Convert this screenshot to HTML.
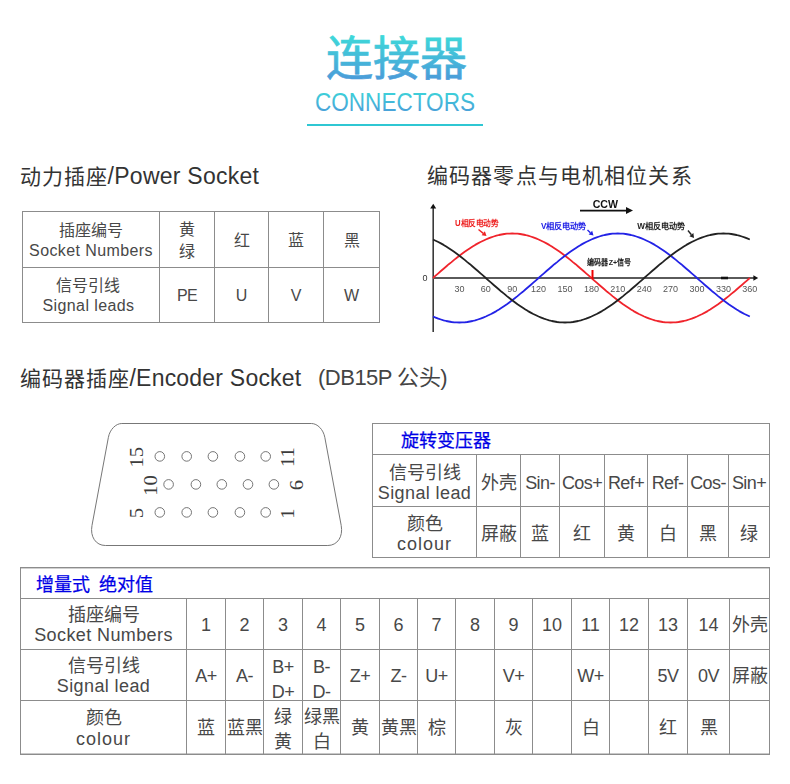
<!DOCTYPE html>
<html lang="zh-CN"><head><meta charset="utf-8"><title>Connectors</title>
<style>
*{margin:0;padding:0;box-sizing:border-box}
html,body{width:790px;height:784px;overflow:hidden;background:#fff}
body{position:relative;-webkit-font-smoothing:antialiased;font-family:"Liberation Sans", sans-serif;color:#484848}
.l{position:absolute}
.c{position:absolute;font-weight:350;display:flex;align-items:center;justify-content:center;text-align:center;line-height:20px;white-space:nowrap;color:#484848}
.la{letter-spacing:0.4px}
.bt{position:absolute;display:flex;align-items:center;color:#0000e6;-webkit-text-stroke:0.25px #0000e6;white-space:nowrap}
.h.h2{font-size:22px;letter-spacing:-0.5px;color:#444}
.h{position:absolute;font-size:21px;letter-spacing:0.9px;line-height:30px;color:#333;white-space:nowrap}

</style></head>
<body>
<svg width="790" height="140" style="position:absolute;left:0;top:0"><defs><linearGradient id="g1" gradientUnits="userSpaceOnUse" x1="0" y1="36" x2="0" y2="80"><stop offset="0" stop-color="#3ed8d9"/><stop offset="1" stop-color="#4b9bd9"/></linearGradient><linearGradient id="g2" gradientUnits="userSpaceOnUse" x1="0" y1="92" x2="0" y2="112"><stop offset="0" stop-color="#3dd2d9"/><stop offset="1" stop-color="#4aa0d9"/></linearGradient></defs><text x="396.5" y="75" text-anchor="middle" font-family="Liberation Sans, sans-serif" font-size="47" font-weight="500" fill="url(#g1)" stroke="url(#g1)" stroke-width="0.7">连接器</text><text x="315" y="111.3" font-family="Liberation Sans, sans-serif" font-size="26" fill="url(#g2)" textLength="160" lengthAdjust="spacingAndGlyphs">CONNECTORS</text></svg>
<div class="l" style="left:307px;top:124px;width:176px;height:2px;background:#2fc7d3"></div>
<div class="h" style="left:20px;top:161px">动力插座<span style="letter-spacing:0.25px;font-size:23px">/Power Socket</span></div>
<div class="h" style="left:427px;top:161px;letter-spacing:1.15px">编码器零点与电机相位关系</div>
<div class="h" style="left:20px;top:363px">编码器插座<span style="letter-spacing:0.21px;font-size:23px">/Encoder Socket</span></div>
<div class="h h2" style="left:318px;top:363px">(DB15P 公头)</div>
<div class="l" style="left:22px;top:211px;width:358px;height:1px;background:#8c8c8c"></div>
<div class="l" style="left:22px;top:267px;width:358px;height:1px;background:#8c8c8c"></div>
<div class="l" style="left:22px;top:322px;width:358px;height:1px;background:#8c8c8c"></div>
<div class="l" style="left:22px;top:211px;width:1px;height:112px;background:#8c8c8c"></div>
<div class="l" style="left:159px;top:211px;width:1px;height:112px;background:#8c8c8c"></div>
<div class="l" style="left:214px;top:211px;width:1px;height:112px;background:#8c8c8c"></div>
<div class="l" style="left:268px;top:211px;width:1px;height:112px;background:#8c8c8c"></div>
<div class="l" style="left:323px;top:211px;width:1px;height:112px;background:#8c8c8c"></div>
<div class="l" style="left:379px;top:211px;width:1px;height:112px;background:#8c8c8c"></div>
<div class="c" style="left:23px;top:212px;width:136px;height:55px;font-size:16px;line-height:20px;padding-top:2px;"><div>插座编号<br><span class="la">Socket Numbers</span></div></div>
<div class="c" style="left:160px;top:212px;width:54px;height:55px;font-size:16px;line-height:22px;padding-top:2px;"><div>黄<br>绿</div></div>
<div class="c" style="left:215px;top:212px;width:53px;height:55px;font-size:16px;line-height:22px;padding-top:2px;"><div>红</div></div>
<div class="c" style="left:269px;top:212px;width:54px;height:55px;font-size:16px;line-height:22px;padding-top:2px;"><div>蓝</div></div>
<div class="c" style="left:324px;top:212px;width:55px;height:55px;font-size:16px;line-height:22px;padding-top:2px;"><div>黑</div></div>
<div class="c" style="left:23px;top:268px;width:136px;height:54px;font-size:16px;line-height:20px;padding-top:2px;padding-right:5px;"><div>信号引线<br><span class="la">Signal leads</span></div></div>
<div class="c" style="left:160px;top:268px;width:54px;height:54px;font-size:16px;line-height:22px;padding-top:2px;letter-spacing:-0.6px;"><div>PE</div></div>
<div class="c" style="left:215px;top:268px;width:53px;height:54px;font-size:16px;line-height:22px;padding-top:2px;"><div>U</div></div>
<div class="c" style="left:269px;top:268px;width:54px;height:54px;font-size:16px;line-height:22px;padding-top:2px;"><div>V</div></div>
<div class="c" style="left:324px;top:268px;width:55px;height:54px;font-size:16px;line-height:22px;padding-top:2px;"><div>W</div></div>
<div class="l" style="left:372px;top:423px;width:398px;height:1px;background:#8c8c8c"></div>
<div class="l" style="left:372px;top:454px;width:398px;height:1px;background:#8c8c8c"></div>
<div class="l" style="left:372px;top:506px;width:398px;height:1px;background:#8c8c8c"></div>
<div class="l" style="left:372px;top:557px;width:398px;height:1px;background:#8c8c8c"></div>
<div class="l" style="left:372px;top:423px;width:1px;height:135px;background:#8c8c8c"></div>
<div class="l" style="left:476px;top:454px;width:1px;height:104px;background:#8c8c8c"></div>
<div class="l" style="left:520px;top:454px;width:1px;height:104px;background:#8c8c8c"></div>
<div class="l" style="left:559px;top:454px;width:1px;height:104px;background:#8c8c8c"></div>
<div class="l" style="left:604px;top:454px;width:1px;height:104px;background:#8c8c8c"></div>
<div class="l" style="left:647px;top:454px;width:1px;height:104px;background:#8c8c8c"></div>
<div class="l" style="left:687px;top:454px;width:1px;height:104px;background:#8c8c8c"></div>
<div class="l" style="left:728px;top:454px;width:1px;height:104px;background:#8c8c8c"></div>
<div class="l" style="left:769px;top:423px;width:1px;height:135px;background:#8c8c8c"></div>
<div class="bt" style="left:401px;top:424px;height:30px;font-size:18px">旋转变压器</div>
<div class="c" style="left:373px;top:455px;width:103px;height:51px;font-size:18px;line-height:20px;padding-top:4px;"><div>信号引线<br><span class="la">Signal lead</span></div></div>
<div class="c" style="left:477px;top:455px;width:43px;height:51px;font-size:18px;line-height:20px;padding-top:4px;"><div>外壳</div></div>
<div class="c" style="left:521px;top:455px;width:38px;height:51px;font-size:18px;line-height:20px;padding-top:4px;letter-spacing:-0.6px;"><div>Sin-</div></div>
<div class="c" style="left:560px;top:455px;width:44px;height:51px;font-size:18px;line-height:20px;padding-top:4px;letter-spacing:-0.6px;"><div>Cos+</div></div>
<div class="c" style="left:605px;top:455px;width:42px;height:51px;font-size:18px;line-height:20px;padding-top:4px;letter-spacing:-0.6px;"><div>Ref+</div></div>
<div class="c" style="left:648px;top:455px;width:39px;height:51px;font-size:18px;line-height:20px;padding-top:4px;letter-spacing:-0.6px;"><div>Ref-</div></div>
<div class="c" style="left:688px;top:455px;width:40px;height:51px;font-size:18px;line-height:20px;padding-top:4px;letter-spacing:-0.6px;"><div>Cos-</div></div>
<div class="c" style="left:729px;top:455px;width:40px;height:51px;font-size:18px;line-height:20px;padding-top:4px;letter-spacing:-0.6px;"><div>Sin+</div></div>
<div class="c" style="left:373px;top:507px;width:103px;height:50px;font-size:18px;line-height:20px;padding-top:4px;"><div>颜色<br><span class="la" style="letter-spacing:1px">colour</span></div></div>
<div class="c" style="left:477px;top:507px;width:43px;height:50px;font-size:18px;line-height:20px;padding-top:4px;"><div>屏蔽</div></div>
<div class="c" style="left:521px;top:507px;width:38px;height:50px;font-size:18px;line-height:20px;padding-top:4px;"><div>蓝</div></div>
<div class="c" style="left:560px;top:507px;width:44px;height:50px;font-size:18px;line-height:20px;padding-top:4px;"><div>红</div></div>
<div class="c" style="left:605px;top:507px;width:42px;height:50px;font-size:18px;line-height:20px;padding-top:4px;"><div>黄</div></div>
<div class="c" style="left:648px;top:507px;width:39px;height:50px;font-size:18px;line-height:20px;padding-top:4px;"><div>白</div></div>
<div class="c" style="left:688px;top:507px;width:40px;height:50px;font-size:18px;line-height:20px;padding-top:4px;"><div>黑</div></div>
<div class="c" style="left:729px;top:507px;width:40px;height:50px;font-size:18px;line-height:20px;padding-top:4px;"><div>绿</div></div>
<div class="l" style="left:21px;top:568px;width:748px;height:1px;background:#d0d0d0"></div>
<div class="l" style="left:21px;top:753px;width:748px;height:1px;background:#c8c8c8"></div>
<div class="l" style="left:20px;top:567px;width:750px;height:1px;background:#8c8c8c"></div>
<div class="l" style="left:20px;top:598px;width:750px;height:1px;background:#8c8c8c"></div>
<div class="l" style="left:20px;top:649px;width:750px;height:1px;background:#8c8c8c"></div>
<div class="l" style="left:20px;top:700px;width:750px;height:1px;background:#8c8c8c"></div>
<div class="l" style="left:20px;top:754px;width:750px;height:1px;background:#8c8c8c"></div>
<div class="l" style="left:20px;top:567px;width:1px;height:188px;background:#8c8c8c"></div>
<div class="l" style="left:186px;top:598px;width:1px;height:157px;background:#8c8c8c"></div>
<div class="l" style="left:225px;top:598px;width:1px;height:157px;background:#8c8c8c"></div>
<div class="l" style="left:263px;top:598px;width:1px;height:157px;background:#8c8c8c"></div>
<div class="l" style="left:302px;top:598px;width:1px;height:157px;background:#8c8c8c"></div>
<div class="l" style="left:340px;top:598px;width:1px;height:157px;background:#8c8c8c"></div>
<div class="l" style="left:379px;top:598px;width:1px;height:157px;background:#8c8c8c"></div>
<div class="l" style="left:417px;top:598px;width:1px;height:157px;background:#8c8c8c"></div>
<div class="l" style="left:455px;top:598px;width:1px;height:157px;background:#8c8c8c"></div>
<div class="l" style="left:494px;top:598px;width:1px;height:157px;background:#8c8c8c"></div>
<div class="l" style="left:532px;top:598px;width:1px;height:157px;background:#8c8c8c"></div>
<div class="l" style="left:571px;top:598px;width:1px;height:157px;background:#8c8c8c"></div>
<div class="l" style="left:609px;top:598px;width:1px;height:157px;background:#8c8c8c"></div>
<div class="l" style="left:648px;top:598px;width:1px;height:157px;background:#8c8c8c"></div>
<div class="l" style="left:687px;top:598px;width:1px;height:157px;background:#8c8c8c"></div>
<div class="l" style="left:729px;top:598px;width:1px;height:157px;background:#8c8c8c"></div>
<div class="l" style="left:769px;top:567px;width:1px;height:188px;background:#8c8c8c"></div>
<div class="bt" style="left:36px;top:568px;height:30px;font-size:18px">增量式<span style="display:inline-block;width:8.5px"></span>绝对值</div>
<div class="c" style="left:21px;top:599px;width:165px;height:50px;font-size:18px;line-height:20.5px;padding-top:2px;"><div>插座编号<br><span class="la">Socket Numbers</span></div></div>
<div class="c" style="left:187px;top:599px;width:38px;height:50px;font-size:18px;line-height:24.5px;padding-top:2px;"><div>1</div></div>
<div class="c" style="left:226px;top:599px;width:37px;height:50px;font-size:18px;line-height:24.5px;padding-top:2px;"><div>2</div></div>
<div class="c" style="left:264px;top:599px;width:38px;height:50px;font-size:18px;line-height:24.5px;padding-top:2px;"><div>3</div></div>
<div class="c" style="left:303px;top:599px;width:37px;height:50px;font-size:18px;line-height:24.5px;padding-top:2px;"><div>4</div></div>
<div class="c" style="left:341px;top:599px;width:38px;height:50px;font-size:18px;line-height:24.5px;padding-top:2px;"><div>5</div></div>
<div class="c" style="left:380px;top:599px;width:37px;height:50px;font-size:18px;line-height:24.5px;padding-top:2px;"><div>6</div></div>
<div class="c" style="left:418px;top:599px;width:37px;height:50px;font-size:18px;line-height:24.5px;padding-top:2px;"><div>7</div></div>
<div class="c" style="left:456px;top:599px;width:38px;height:50px;font-size:18px;line-height:24.5px;padding-top:2px;"><div>8</div></div>
<div class="c" style="left:495px;top:599px;width:37px;height:50px;font-size:18px;line-height:24.5px;padding-top:2px;"><div>9</div></div>
<div class="c" style="left:533px;top:599px;width:38px;height:50px;font-size:18px;line-height:24.5px;padding-top:2px;"><div>10</div></div>
<div class="c" style="left:572px;top:599px;width:37px;height:50px;font-size:18px;line-height:24.5px;padding-top:2px;"><div>11</div></div>
<div class="c" style="left:610px;top:599px;width:38px;height:50px;font-size:18px;line-height:24.5px;padding-top:2px;"><div>12</div></div>
<div class="c" style="left:649px;top:599px;width:38px;height:50px;font-size:18px;line-height:24.5px;padding-top:2px;"><div>13</div></div>
<div class="c" style="left:688px;top:599px;width:41px;height:50px;font-size:18px;line-height:24.5px;padding-top:2px;"><div>14</div></div>
<div class="c" style="left:730px;top:599px;width:39px;height:50px;font-size:18px;line-height:24.5px;padding-top:2px;"><div>外壳</div></div>
<div class="c" style="left:21px;top:650px;width:165px;height:50px;font-size:18px;line-height:20.5px;padding-top:2px;"><div>信号引线<br><span class="la">Signal lead</span></div></div>
<div class="c" style="left:187px;top:650px;width:38px;height:50px;font-size:18px;line-height:24.5px;padding-top:2px;letter-spacing:-0.6px;"><div>A+</div></div>
<div class="c" style="left:226px;top:650px;width:37px;height:50px;font-size:18px;line-height:24.5px;padding-top:2px;letter-spacing:-0.6px;"><div>A-</div></div>
<div class="c" style="left:264px;top:650px;width:38px;height:50px;font-size:18px;line-height:24.5px;padding-top:9.0px;letter-spacing:-0.6px;"><div>B+<br>D+</div></div>
<div class="c" style="left:303px;top:650px;width:37px;height:50px;font-size:18px;line-height:24.5px;padding-top:9.0px;letter-spacing:-0.6px;"><div>B-<br>D-</div></div>
<div class="c" style="left:341px;top:650px;width:38px;height:50px;font-size:18px;line-height:24.5px;padding-top:2px;letter-spacing:-0.6px;"><div>Z+</div></div>
<div class="c" style="left:380px;top:650px;width:37px;height:50px;font-size:18px;line-height:24.5px;padding-top:2px;letter-spacing:-0.6px;"><div>Z-</div></div>
<div class="c" style="left:418px;top:650px;width:37px;height:50px;font-size:18px;line-height:24.5px;padding-top:2px;letter-spacing:-0.6px;"><div>U+</div></div>
<div class="c" style="left:495px;top:650px;width:37px;height:50px;font-size:18px;line-height:24.5px;padding-top:2px;letter-spacing:-0.6px;"><div>V+</div></div>
<div class="c" style="left:572px;top:650px;width:37px;height:50px;font-size:18px;line-height:24.5px;padding-top:2px;letter-spacing:-0.6px;"><div>W+</div></div>
<div class="c" style="left:649px;top:650px;width:38px;height:50px;font-size:18px;line-height:24.5px;padding-top:2px;letter-spacing:-0.6px;"><div>5V</div></div>
<div class="c" style="left:688px;top:650px;width:41px;height:50px;font-size:18px;line-height:24.5px;padding-top:2px;letter-spacing:-0.6px;"><div>0V</div></div>
<div class="c" style="left:730px;top:650px;width:39px;height:50px;font-size:18px;line-height:24.5px;padding-top:2px;"><div>屏蔽</div></div>
<div class="c" style="left:21px;top:701px;width:165px;height:53px;font-size:18px;line-height:20.5px;padding-top:2px;"><div>颜色<br><span class="la" style="letter-spacing:1px">colour</span></div></div>
<div class="c" style="left:187px;top:701px;width:38px;height:53px;font-size:18px;line-height:24.5px;padding-top:2px;"><div>蓝</div></div>
<div class="c" style="left:226px;top:701px;width:37px;height:53px;font-size:18px;line-height:24.5px;padding-top:2px;"><div>蓝黑</div></div>
<div class="c" style="left:264px;top:701px;width:38px;height:53px;font-size:18px;line-height:25px;padding-top:4px;"><div>绿<br>黄</div></div>
<div class="c" style="left:303px;top:701px;width:37px;height:53px;font-size:18px;line-height:25px;padding-top:4px;"><div>绿黑<br>白</div></div>
<div class="c" style="left:341px;top:701px;width:38px;height:53px;font-size:18px;line-height:24.5px;padding-top:2px;"><div>黄</div></div>
<div class="c" style="left:380px;top:701px;width:37px;height:53px;font-size:18px;line-height:24.5px;padding-top:2px;"><div>黄黑</div></div>
<div class="c" style="left:418px;top:701px;width:37px;height:53px;font-size:18px;line-height:24.5px;padding-top:2px;"><div>棕</div></div>
<div class="c" style="left:495px;top:701px;width:37px;height:53px;font-size:18px;line-height:24.5px;padding-top:2px;"><div>灰</div></div>
<div class="c" style="left:572px;top:701px;width:37px;height:53px;font-size:18px;line-height:24.5px;padding-top:2px;"><div>白</div></div>
<div class="c" style="left:649px;top:701px;width:38px;height:53px;font-size:18px;line-height:24.5px;padding-top:2px;"><div>红</div></div>
<div class="c" style="left:688px;top:701px;width:41px;height:53px;font-size:18px;line-height:24.5px;padding-top:2px;"><div>黑</div></div>
<svg id="dsub" width="790" height="784" viewBox="0 0 790 784" style="position:absolute;left:0;top:0"><path d="M121.80,423.50 L311.40,423.50 C317.47,423.50 323.36,429.57 324.80,437.30 L341.21,525.50 C343.29,536.70 337.39,545.50 327.80,545.50 L105.40,545.50 C95.81,545.50 89.91,536.70 91.99,525.50 L108.40,437.30 C109.84,429.57 115.73,423.50 121.80,423.50 Z" fill="none" stroke="#777" stroke-width="1"/><circle cx="159.8" cy="456.4" r="4.8" fill="none" stroke="#666" stroke-width="0.9"/><circle cx="186.7" cy="456.4" r="4.8" fill="none" stroke="#666" stroke-width="0.9"/><circle cx="212.9" cy="456.4" r="4.8" fill="none" stroke="#666" stroke-width="0.9"/><circle cx="239.9" cy="456.4" r="4.8" fill="none" stroke="#666" stroke-width="0.9"/><circle cx="265.7" cy="456.4" r="4.8" fill="none" stroke="#666" stroke-width="0.9"/><circle cx="168.6" cy="484.4" r="4.8" fill="none" stroke="#666" stroke-width="0.9"/><circle cx="195.9" cy="484.4" r="4.8" fill="none" stroke="#666" stroke-width="0.9"/><circle cx="221.8" cy="484.4" r="4.8" fill="none" stroke="#666" stroke-width="0.9"/><circle cx="248" cy="484.4" r="4.8" fill="none" stroke="#666" stroke-width="0.9"/><circle cx="273.9" cy="484.4" r="4.8" fill="none" stroke="#666" stroke-width="0.9"/><circle cx="159.8" cy="512.4" r="4.8" fill="none" stroke="#666" stroke-width="0.9"/><circle cx="186.7" cy="512.4" r="4.8" fill="none" stroke="#666" stroke-width="0.9"/><circle cx="212.9" cy="512.4" r="4.8" fill="none" stroke="#666" stroke-width="0.9"/><circle cx="239.9" cy="512.4" r="4.8" fill="none" stroke="#666" stroke-width="0.9"/><circle cx="265.7" cy="512.4" r="4.8" fill="none" stroke="#666" stroke-width="0.9"/><text x="0" y="0" transform="translate(136.8,457.2) rotate(-90) scale(1.03,0.9)" text-anchor="middle" dominant-baseline="central" font-family="Liberation Serif" font-size="20" fill="#3c3c3c">15</text><text x="0" y="0" transform="translate(151,485.5) rotate(-90) scale(1.03,0.9)" text-anchor="middle" dominant-baseline="central" font-family="Liberation Serif" font-size="20" fill="#3c3c3c">10</text><text x="0" y="0" transform="translate(136.8,513.2) rotate(-90) scale(1.03,0.9)" text-anchor="middle" dominant-baseline="central" font-family="Liberation Serif" font-size="20" fill="#3c3c3c">5</text><text x="0" y="0" transform="translate(288.1,457) rotate(-90) scale(1.03,0.9)" text-anchor="middle" dominant-baseline="central" font-family="Liberation Serif" font-size="20" fill="#3c3c3c">11</text><text x="0" y="0" transform="translate(297.3,485.1) rotate(-90) scale(1.03,0.9)" text-anchor="middle" dominant-baseline="central" font-family="Liberation Serif" font-size="20" fill="#3c3c3c">6</text><text x="0" y="0" transform="translate(288.1,513.5) rotate(-90) scale(1.03,0.9)" text-anchor="middle" dominant-baseline="central" font-family="Liberation Serif" font-size="20" fill="#3c3c3c">1</text></svg>
<svg id="chart" width="790" height="784" viewBox="0 0 790 784" style="position:absolute;left:0;top:0;filter:blur(0.35px)"><line x1="433.2" y1="332" x2="433.2" y2="208" stroke="#3a3a3a" stroke-width="1.6"/><path d="M433.2,203.8 L430.2,208.6 L436.2,208.6 Z" fill="#111"/><line x1="433" y1="278" x2="754" y2="278" stroke="#5a5a5a" stroke-width="2"/><path d="M758.2,278 L753.4,275.2 L753.4,280.8 Z" fill="#111"/><polyline points="433.0,278.0 435.6,275.7 438.3,273.3 440.9,271.0 443.6,268.7 446.2,266.5 448.8,264.2 451.5,262.1 454.1,259.9 456.8,257.8 459.4,255.8 462.0,253.8 464.7,251.8 467.3,250.0 470.0,248.2 472.6,246.5 475.2,244.9 477.9,243.4 480.5,242.0 483.2,240.7 485.8,239.5 488.4,238.4 491.1,237.3 493.7,236.5 496.4,235.7 499.0,235.0 501.6,234.5 504.3,234.0 506.9,233.7 509.6,233.6 512.2,233.5 514.8,233.6 517.5,233.7 520.1,234.0 522.8,234.5 525.4,235.0 528.0,235.7 530.7,236.5 533.3,237.3 536.0,238.4 538.6,239.5 541.2,240.7 543.9,242.0 546.5,243.4 549.2,244.9 551.8,246.5 554.4,248.2 557.1,250.0 559.7,251.8 562.4,253.8 565.0,255.8 567.6,257.8 570.3,259.9 572.9,262.1 575.6,264.2 578.2,266.5 580.8,268.7 583.5,271.0 586.1,273.3 588.8,275.7 591.4,278.0 594.0,280.3 596.7,282.7 599.3,285.0 602.0,287.3 604.6,289.5 607.2,291.8 609.9,293.9 612.5,296.1 615.2,298.2 617.8,300.2 620.4,302.2 623.1,304.2 625.7,306.0 628.4,307.8 631.0,309.5 633.6,311.1 636.3,312.6 638.9,314.0 641.6,315.3 644.2,316.5 646.8,317.6 649.5,318.7 652.1,319.5 654.8,320.3 657.4,321.0 660.0,321.5 662.7,322.0 665.3,322.3 668.0,322.4 670.6,322.5 673.2,322.4 675.9,322.3 678.5,322.0 681.2,321.5 683.8,321.0 686.4,320.3 689.1,319.5 691.7,318.7 694.4,317.6 697.0,316.5 699.6,315.3 702.3,314.0 704.9,312.6 707.6,311.1 710.2,309.5 712.8,307.8 715.5,306.0 718.1,304.2 720.8,302.2 723.4,300.2 726.0,298.2 728.7,296.1 731.3,293.9 734.0,291.8 736.6,289.5 739.2,287.3 741.9,285.0 744.5,282.7 747.2,280.3 749.8,278.0" fill="none" stroke="#f0242c" stroke-width="1.8" stroke-linejoin="round"/><polyline points="433.0,316.5 435.6,317.6 438.3,318.7 440.9,319.5 443.6,320.3 446.2,321.0 448.8,321.5 451.5,322.0 454.1,322.3 456.8,322.4 459.4,322.5 462.0,322.4 464.7,322.3 467.3,322.0 470.0,321.5 472.6,321.0 475.2,320.3 477.9,319.5 480.5,318.7 483.2,317.6 485.8,316.5 488.4,315.3 491.1,314.0 493.7,312.6 496.4,311.1 499.0,309.5 501.6,307.8 504.3,306.0 506.9,304.2 509.6,302.2 512.2,300.2 514.8,298.2 517.5,296.1 520.1,293.9 522.8,291.8 525.4,289.5 528.0,287.3 530.7,285.0 533.3,282.7 536.0,280.3 538.6,278.0 541.2,275.7 543.9,273.3 546.5,271.0 549.2,268.7 551.8,266.5 554.4,264.2 557.1,262.1 559.7,259.9 562.4,257.8 565.0,255.8 567.6,253.8 570.3,251.8 572.9,250.0 575.6,248.2 578.2,246.5 580.8,244.9 583.5,243.4 586.1,242.0 588.8,240.7 591.4,239.5 594.0,238.4 596.7,237.3 599.3,236.5 602.0,235.7 604.6,235.0 607.2,234.5 609.9,234.0 612.5,233.7 615.2,233.6 617.8,233.5 620.4,233.6 623.1,233.7 625.7,234.0 628.4,234.5 631.0,235.0 633.6,235.7 636.3,236.5 638.9,237.3 641.6,238.4 644.2,239.5 646.8,240.7 649.5,242.0 652.1,243.4 654.8,244.9 657.4,246.5 660.0,248.2 662.7,250.0 665.3,251.8 668.0,253.8 670.6,255.8 673.2,257.8 675.9,259.9 678.5,262.1 681.2,264.2 683.8,266.5 686.4,268.7 689.1,271.0 691.7,273.3 694.4,275.7 697.0,278.0 699.6,280.3 702.3,282.7 704.9,285.0 707.6,287.3 710.2,289.5 712.8,291.8 715.5,293.9 718.1,296.1 720.8,298.2 723.4,300.2 726.0,302.2 728.7,304.2 731.3,306.0 734.0,307.8 736.6,309.5 739.2,311.1 741.9,312.6 744.5,314.0 747.2,315.3 749.8,316.5" fill="none" stroke="#2323e6" stroke-width="1.8" stroke-linejoin="round"/><polyline points="433.0,239.5 435.6,240.7 438.3,242.0 440.9,243.4 443.6,244.9 446.2,246.5 448.8,248.2 451.5,250.0 454.1,251.8 456.8,253.8 459.4,255.8 462.0,257.8 464.7,259.9 467.3,262.1 470.0,264.2 472.6,266.5 475.2,268.7 477.9,271.0 480.5,273.3 483.2,275.7 485.8,278.0 488.4,280.3 491.1,282.7 493.7,285.0 496.4,287.3 499.0,289.5 501.6,291.8 504.3,293.9 506.9,296.1 509.6,298.2 512.2,300.2 514.8,302.2 517.5,304.2 520.1,306.0 522.8,307.8 525.4,309.5 528.0,311.1 530.7,312.6 533.3,314.0 536.0,315.3 538.6,316.5 541.2,317.6 543.9,318.7 546.5,319.5 549.2,320.3 551.8,321.0 554.4,321.5 557.1,322.0 559.7,322.3 562.4,322.4 565.0,322.5 567.6,322.4 570.3,322.3 572.9,322.0 575.6,321.5 578.2,321.0 580.8,320.3 583.5,319.5 586.1,318.7 588.8,317.6 591.4,316.5 594.0,315.3 596.7,314.0 599.3,312.6 602.0,311.1 604.6,309.5 607.2,307.8 609.9,306.0 612.5,304.2 615.2,302.2 617.8,300.2 620.4,298.2 623.1,296.1 625.7,293.9 628.4,291.8 631.0,289.5 633.6,287.3 636.3,285.0 638.9,282.7 641.6,280.3 644.2,278.0 646.8,275.7 649.5,273.3 652.1,271.0 654.8,268.7 657.4,266.5 660.0,264.2 662.7,262.1 665.3,259.9 668.0,257.8 670.6,255.8 673.2,253.8 675.9,251.8 678.5,250.0 681.2,248.2 683.8,246.5 686.4,244.9 689.1,243.4 691.7,242.0 694.4,240.7 697.0,239.5 699.6,238.4 702.3,237.3 704.9,236.5 707.6,235.7 710.2,235.0 712.8,234.5 715.5,234.0 718.1,233.7 720.8,233.6 723.4,233.5 726.0,233.6 728.7,233.7 731.3,234.0 734.0,234.5 736.6,235.0 739.2,235.7 741.9,236.5 744.5,237.3 747.2,238.4 749.8,239.5" fill="none" stroke="#222" stroke-width="1.8" stroke-linejoin="round"/><line x1="721" y1="278" x2="728" y2="278" stroke="#111" stroke-width="2.6"/><line x1="592.5" y1="270" x2="592.5" y2="279" stroke="#e00" stroke-width="2"/><text x="459.4" y="292" text-anchor="middle" font-family="Liberation Sans, sans-serif" font-size="9" fill="#555">30</text><text x="485.8" y="292" text-anchor="middle" font-family="Liberation Sans, sans-serif" font-size="9" fill="#555">60</text><text x="512.2" y="292" text-anchor="middle" font-family="Liberation Sans, sans-serif" font-size="9" fill="#555">90</text><text x="538.6" y="292" text-anchor="middle" font-family="Liberation Sans, sans-serif" font-size="9" fill="#555">120</text><text x="565.0" y="292" text-anchor="middle" font-family="Liberation Sans, sans-serif" font-size="9" fill="#555">150</text><text x="591.4" y="292" text-anchor="middle" font-family="Liberation Sans, sans-serif" font-size="9" fill="#555">180</text><text x="617.8" y="292" text-anchor="middle" font-family="Liberation Sans, sans-serif" font-size="9" fill="#555">210</text><text x="644.2" y="292" text-anchor="middle" font-family="Liberation Sans, sans-serif" font-size="9" fill="#555">240</text><text x="670.6" y="292" text-anchor="middle" font-family="Liberation Sans, sans-serif" font-size="9" fill="#555">270</text><text x="697.0" y="292" text-anchor="middle" font-family="Liberation Sans, sans-serif" font-size="9" fill="#555">300</text><text x="723.4" y="292" text-anchor="middle" font-family="Liberation Sans, sans-serif" font-size="9" fill="#555">330</text><text x="749.8" y="292" text-anchor="middle" font-family="Liberation Sans, sans-serif" font-size="9" fill="#555">360</text><text x="425" y="281" text-anchor="middle" font-family="Liberation Sans, sans-serif" font-size="9" fill="#333">0</text><text x="592.7" y="208.3" font-family="Liberation Sans, sans-serif" font-weight="bold" font-size="11" fill="#111" textLength="25.3" lengthAdjust="spacingAndGlyphs">CCW</text><line x1="580" y1="210.6" x2="628" y2="210.6" stroke="#111" stroke-width="1.6"/><path d="M633,210.6 L626,207 L626,214 Z" fill="#111"/><text x="455" y="225.6" font-family="Liberation Sans, sans-serif" font-weight="bold" font-size="8.2" fill="#e22" textLength="43.5" lengthAdjust="spacingAndGlyphs">U相反电动势</text><text x="541" y="229.4" font-family="Liberation Sans, sans-serif" font-weight="bold" font-size="8.2" fill="#2323e6" textLength="45.5" lengthAdjust="spacingAndGlyphs">V相反电动势</text><text x="637.3" y="229.2" font-family="Liberation Sans, sans-serif" font-weight="bold" font-size="8.2" fill="#222" textLength="47.4" lengthAdjust="spacingAndGlyphs">W相反电动势</text><text x="587" y="264.9" font-family="Liberation Sans, sans-serif" font-weight="bold" font-size="7.8" fill="#222" textLength="44.6" lengthAdjust="spacingAndGlyphs">编码器Z+信号</text><line x1="478.5" y1="229.5" x2="483.24" y2="233.35" stroke="#e22" stroke-width="1.4"/><path d="M486.50,236.00 L481.60,235.37 L484.88,231.33 Z" fill="#e22"/><line x1="587.5" y1="230" x2="590.40" y2="232.66" stroke="#2323e6" stroke-width="1.4"/><path d="M593.50,235.50 L588.65,234.58 L592.16,230.75 Z" fill="#2323e6"/><line x1="688" y1="230.5" x2="691.38" y2="234.72" stroke="#222" stroke-width="1.4"/><path d="M694.00,238.00 L689.35,236.34 L693.41,233.10 Z" fill="#222"/></svg>
</body></html>
